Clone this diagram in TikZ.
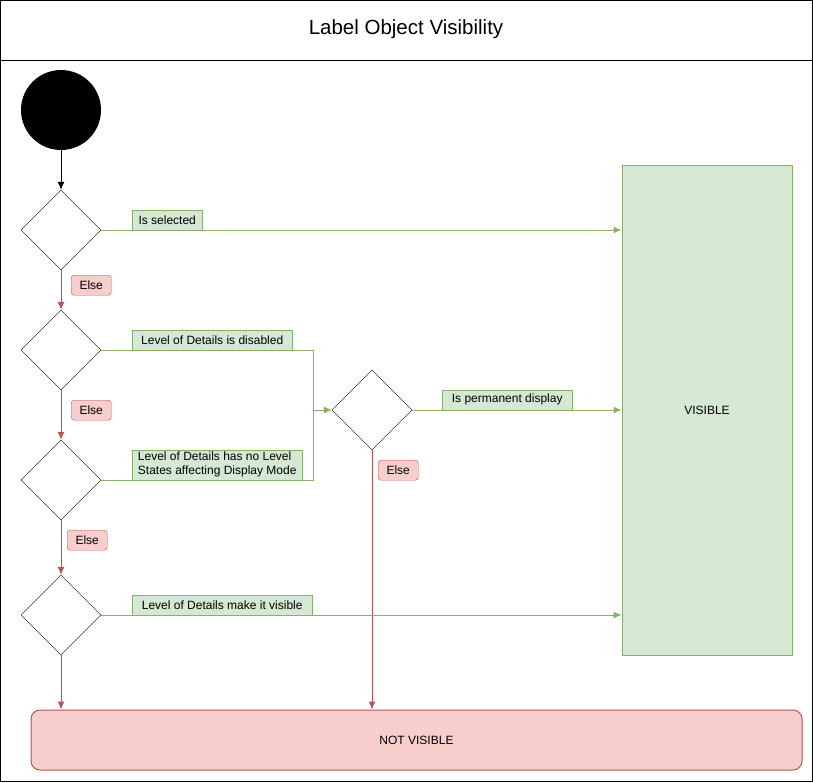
\documentclass[tikz,border=0pt]{standalone}
\usepackage{fontspec}
\setmainfont{Liberation Sans}
\usetikzlibrary{arrows.meta,shapes.geometric,positioning,calc}
\definecolor{okfill}{HTML}{D5E8D4}
\definecolor{okline}{HTML}{82B366}
\definecolor{nofill}{HTML}{F8CECC}
\definecolor{noline}{HTML}{B85450}
\tikzset{decision/.style={
            draw,
            diamond,
            aspect=1,
            inner sep=0pt,
            minimum width=80pt,
            minimum height=80pt
        },
        yeslabel/.style={
            draw=okline,
            fill=okfill,
            inner sep=0pt,
            minimum height=20pt,
            align=left,
            font=\fontsize{12}{14}\selectfont
        },
        elselabel/.style={
            draw=noline,
            fill=nofill,
            rounded corners=3pt,
            inner sep=0pt,
            minimum width=40pt,
            minimum height=20pt,
            font=\fontsize{12}{14}\selectfont
        },
        yes/.style={
            draw=okline,
            line width=1pt,
            -{Latex[length=8pt,width=7pt]}
        },
        no/.style={
            draw=noline,
            line width=1pt,
            -{Latex[length=8pt,width=7pt]}
        }
    }

\begin{document}
\begin{tikzpicture}[x=1pt,y=-1pt]
        \useasboundingbox (0,0) rectangle (813,782);
        \draw[line width=1pt] (0.5,0.5) rectangle (812.5,781.5);
        \draw[line width=1pt] (0.5,60.5) -- (812.5,60.5);
        \node[font=\fontsize{20.5}{24}\selectfont] (title) at (406,29) {Label Object Visibility};

        % states
        \node[circle,fill=black,inner sep=0pt,minimum size=80pt] (start) at (61,110) {};
        \node[decision] (selected) at (61,230) {};
        \node[decision] (disabled) at (61,350) {};
        \node[decision] (nolevel) at (61,480) {};
        \node[decision] (makevis) at (61,615) {};
        \node[decision] (permanent) at (372,410) {};

        \node[draw=okline,fill=okfill,line width=1pt,minimum width=170pt,minimum height=490pt,
              font=\fontsize{12}{14}\selectfont] (visible) at (707,410) {VISIBLE};
        \node[draw=noline,fill=nofill,line width=1pt,rounded corners=9pt,minimum width=771pt,
              minimum height=60pt,font=\fontsize{12}{14}\selectfont] (notvisible) at (416.5,740) {NOT VISIBLE};

        % connectors
        \draw[line width=1pt,-{Latex[length=8pt,width=7pt]}] (start) -- (selected);
        \draw[yes] (selected.east) -- (visible.west |- selected.east);
        \draw[no] (selected) -- (disabled);
        \draw[no] (disabled) -- (nolevel);
        \draw[no] (nolevel) -- (makevis);
        \draw[no] (makevis) -- (makevis.south |- notvisible.north);

        \coordinate (join) at (313,410);
        \draw[okline,line width=1pt] (disabled.east) -| (join);
        \draw[okline,line width=1pt] (nolevel.east) -| (join);
        \draw[yes] (join) -- (permanent.west);
        \draw[yes] (permanent.east) -- (visible.west |- permanent.east);
        \draw[no] (permanent.south) -- (permanent.south |- notvisible.north);
        \draw[yes] (makevis.east) -- (visible.west |- makevis.east);

        % labels
        \node[yeslabel,minimum width=70pt,anchor=south west] (lblsel) at (132,230) {Is selected};
        \node[yeslabel,minimum width=160pt,anchor=south west] (lbldis) at (132,350) {Level of Details is disabled};
        \node[yeslabel,minimum width=170pt,minimum height=30pt,anchor=south west] (lblnolvl) at (132,480)
            {Level of Details has no Level\\States affecting Display Mode};
        \node[yeslabel,minimum width=180pt,anchor=south west] (lblmake) at (132,615) {Level of Details make it visible};
        \node[yeslabel,minimum width=130pt,anchor=south west] (lblperm) at (442,410) {Is permanent display};

        \node[elselabel,anchor=north west] (else1) at (71,275) {Else};
        \node[elselabel,anchor=north west] (else2) at (71,400) {Else};
        \node[elselabel,anchor=north west] (else3) at (67,530) {Else};
        \node[elselabel,anchor=north west] (else4) at (378,460) {Else};
\end{tikzpicture}
\end{document}
